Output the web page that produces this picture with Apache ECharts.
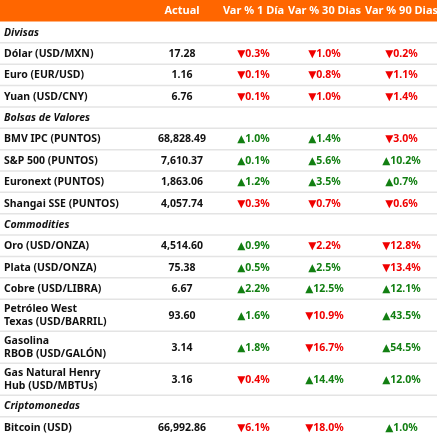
<!DOCTYPE html>
<html>
<head>
<meta charset="utf-8">
<script src="https://cdn.jsdelivr.net/npm/echarts@6/dist/echarts.min.js"></script>
<style>
html,body{margin:0;padding:0;background:#fff;}
#c{width:440px;height:438px;}
</style>
</head>
<body>
<div id="c"></div>
<script>
// ---- data ----
var headers = ['Actual', 'Var % 1 Día', 'Var % 30 Dias', 'Var % 90 Dias'];
var sections = ['Divisas', 'Bolsas de Valores', 'Commodities', 'Criptomonedas'];
var rowLabels = [
  'Divisas',
  'Dólar (USD/MXN)', 'Euro (EUR/USD)', 'Yuan (USD/CNY)',
  'Bolsas de Valores',
  'BMV IPC (PUNTOS)', 'S&P 500 (PUNTOS)', 'Euronext (PUNTOS)', 'Shangai SSE (PUNTOS)',
  'Commodities',
  'Oro (USD/ONZA)', 'Plata (USD/ONZA)', 'Cobre (USD/LIBRA)',
  'Petróleo West\nTexas (USD/BARRIL)', 'Gasolina\nRBOB (USD/GALÓN)', 'Gas Natural Henry\nHub (USD/MBTUs)',
  'Criptomonedas',
  'Bitcoin (USD)'
];
var actual = [null, 17.28, 1.16, 6.76, null, 68828.49, 7610.37, 1863.06, 4057.74, null,
  4514.60, 75.38, 6.67, 93.60, 3.14, 3.16, null, 66992.86];
var var1 = [null, -0.3, -0.1, -0.1, null, 1.0, 0.1, 1.2, -0.3, null,
  0.9, 0.5, 2.2, 1.6, 1.8, -0.4, null, -6.1];
var var30 = [null, -1.0, -0.8, -1.0, null, 1.4, 5.6, 3.5, -0.7, null,
  -2.2, 2.5, 12.5, -10.9, -16.7, 14.4, null, -18.0];
var var90 = [null, -0.2, -1.1, -1.4, null, -3.0, 10.2, 0.7, -0.6, null,
  -12.8, -13.4, 12.1, 43.5, 54.5, 12.0, null, 1.0];

// ---- layout / style ----
var FONT = '"Noto Sans", "DejaVu Sans", sans-serif';
var HEADER_H = 21.5;
var TABLE_W = 437;
var colCenters = [182, 253.5, 324.5, 401.5];
var ORANGE = '#FF6600';
var RED = '#F00000';
var GREEN = '#127F12';
var LINE = '#E4E4E4';

var units = rowLabels.map(function (l) { return l.indexOf('\n') >= 0 ? 1.5 : 1; });
var total = units.reduce(function (a, b) { return a + b; }, 0);
var data = [];
var acc = 0;
rowLabels.forEach(function (l, i) {
  data.push([i, acc, acc + units[i]]);
  acc += units[i];
});

function fmtNum(v) {
  return v.toLocaleString('en-US', { minimumFractionDigits: 2, maximumFractionDigits: 2 });
}
function fmtPct(v) {
  return (v < 0 ? '▼' : '▲') + Math.abs(v).toFixed(1) + '%';
}

var chart = echarts.init(document.getElementById('c'), null, { renderer: 'canvas' });

var headerGraphics = [{
  type: 'rect', shape: { x: 0, y: 0, width: TABLE_W, height: HEADER_H },
  style: { fill: ORANGE }, silent: true
}];
headers.forEach(function (h, k) {
  headerGraphics.push({
    type: 'text', x: colCenters[k], y: HEADER_H / 2 + 0.5,
    style: { text: h, fill: '#fff', font: 'bold 11px ' + FONT, align: 'center', verticalAlign: 'middle' },
    silent: true
  });
});

chart.setOption({
  animation: false,
  grid: { left: 0, right: 440 - TABLE_W, top: HEADER_H, bottom: 0 },
  xAxis: { type: 'value', min: 0, max: TABLE_W, show: false },
  yAxis: { type: 'value', min: 0, max: total, inverse: true, show: false },
  graphic: headerGraphics,
  series: [{
    type: 'custom',
    data: data,
    clip: false,
    renderItem: function (params, api) {
      var i = api.value(0);
      var top = api.coord([0, api.value(1)]);
      var bot = api.coord([0, api.value(2)]);
      var yc = (top[1] + bot[1]) / 2;
      var left = api.coord([0, 0])[0];
      var right = api.coord([TABLE_W, 0])[0];
      var isSection = sections.indexOf(rowLabels[i]) >= 0;
      var children = [];
      if (i < rowLabels.length - 1) {
        children.push({
          type: 'line', shape: { x1: left, y1: bot[1], x2: right, y2: bot[1] },
          style: { stroke: LINE, lineWidth: 1.5 }
        });
      }
      children.push({
        type: 'text', x: left + 4, y: yc + 0.5,
        style: {
          text: rowLabels[i], fill: '#111',
          font: (isSection ? 'italic bold ' : 'bold ') + '10.5px ' + FONT,
          align: 'left', verticalAlign: 'middle', lineHeight: 12.7
        }
      });
      if (!isSection) {
        children.push({
          type: 'text', x: api.coord([colCenters[0], 0])[0], y: yc + 0.5,
          style: { text: fmtNum(actual[i]), fill: '#111', font: 'bold 10.5px ' + FONT, align: 'center', verticalAlign: 'middle' }
        });
        [var1, var30, var90].forEach(function (arr, k) {
          var v = arr[i];
          children.push({
            type: 'text', x: api.coord([colCenters[k + 1], 0])[0], y: yc + 0.5,
            style: { text: fmtPct(v), fill: v < 0 ? RED : GREEN, font: 'bold 10.5px ' + FONT, align: 'center', verticalAlign: 'middle' }
          });
        });
      }
      return { type: 'group', children: children };
    }
  }]
});
</script>
</body>
</html>
